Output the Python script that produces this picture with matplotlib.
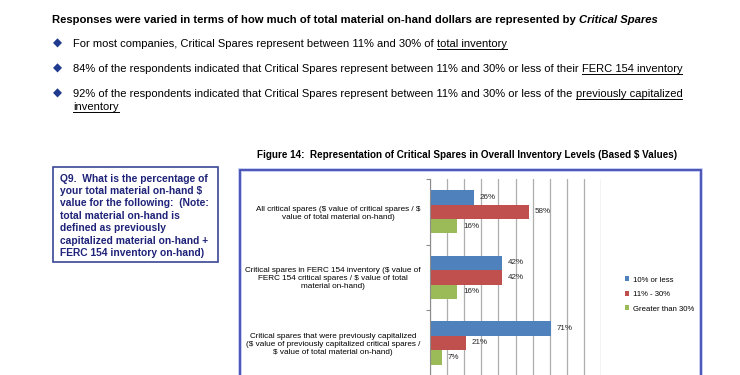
import matplotlib.pyplot as plt
from matplotlib.patches import Rectangle
import numpy as np

categories = [
    "All critical spares (\\$ value of critical spares / \\$\nvalue of total material on-hand)",
    "Critical spares in FERC 154 inventory (\\$ value of\nFERC 154 critical spares / \\$ value of total\nmaterial on-hand)",
    "Critical spares that were previously capitalized\n(\\$ value of previously capitalized critical spares /\n\\$ value of total material on-hand)",
]
series_names = ["10% or less", "11% - 30%", "Greater than 30%"]
low = [26, 42, 71]
mid = [58, 42, 21]
high = [16, 16, 7]
colors = ["#4F81BD", "#C0504D", "#9BBB59"]

header = "Responses were varied in terms of how much of total material on-hand dollars are represented by "
header_it = "Critical Spares"
bullets = [
    ("For most companies, Critical Spares represent between 11% and 30% of ", "total inventory"),
    ("84% of the respondents indicated that Critical Spares represent between 11% and 30% or less of their ", "FERC 154 inventory"),
    ("92% of the respondents indicated that Critical Spares represent between 11% and 30% or less of the ", "previously capitalized"),
]
q9_lines = ["Q9.  What is the percentage of", "your total material on-hand \\$",
            "value for the following:  (Note:", "total material on-hand is",
            "defined as previously", "capitalized material on-hand +",
            "FERC 154 inventory on-hand)"]
fig_title = "Figure 14:  Representation of Critical Spares in Overall Inventory Levels (Based \\$ Values)"

W, H = 740, 375
fig = plt.figure(figsize=(7.4, 3.75), dpi=100)
fig.patch.set_facecolor("white")
arial = ["Liberation Sans", "DejaVu Sans"]


def fx(x):
    return x / W


def fy(y):
    return 1 - y / H


renderer = fig.canvas.get_renderer()


def fit_size(s, width, **kw):
    t = fig.text(0, 0, s, fontsize=10, **kw)
    w = t.get_window_extent(renderer).width
    t.remove()
    return 10 * width / w


def text_run(x, y, s, **kw):
    t = fig.text(fx(x), fy(y), s, va="baseline", ha="left", **kw)
    bb = t.get_window_extent(renderer)
    return t, bb


def underline(bb, y):
    fig.add_artist(plt.Line2D([fx(bb.x0), fx(bb.x1)], [fy(y + 2), fy(y + 2)],
                              color="black", lw=0.7, transform=fig.transFigure))


# header line
hs = fit_size(header + header_it, 609, fontweight="bold", family=arial)
t, bb = text_run(52, 23, header, fontsize=hs, fontweight="bold", family=arial)
text_run(bb.x1, 23, header_it, fontsize=hs, fontweight="bold", style="italic", family=arial)

# bullet lines
bs = fit_size(bullets[1][0] + bullets[1][1], 610, family=arial)
ys = [47, 72, 97]
for (pre, und), y in zip(bullets, ys):
    fig.text(fx(57), fy(y - 4), "\u25c6", color="#1F3A8F", fontsize=8.5, ha="center", va="center",
             family=["DejaVu Sans"])
    t, bb = text_run(73, y, pre, fontsize=bs, family=arial)
    t2, bb2 = text_run(bb.x1, y, und, fontsize=bs, family=arial)
    underline(bb2, y)
t3, bb3 = text_run(73, 110, "inventory", fontsize=bs, family=arial)
underline(bb3, 110)

# Q9 box
fig.add_artist(Rectangle((fx(53), fy(262)), fx(218) - fx(53), fy(167) - fy(262),
                         fill=False, ec="#3A4796", lw=1.2, transform=fig.transFigure))
qs = fit_size(q9_lines[0], 147, fontweight="bold", family=arial)
for i, line in enumerate(q9_lines):
    fig.text(fx(60), fy(181.5 + i * 12.4), line, fontsize=qs, fontweight="bold", color="#1E2278",
             va="baseline", ha="left", family=arial)

# chart title
ts = fit_size(fig_title, 419, fontweight="bold", family=arial)
fig.text(fx(467.5), fy(155), fig_title, fontsize=ts, fontweight="bold", ha="center", va="center",
         family=arial)

# chart frame
fig.add_artist(Rectangle((fx(240), fy(380)), fx(701) - fx(240), fy(170) - fy(380),
                         fill=False, ec="#BAC2F2", lw=2.6, transform=fig.transFigure))
fig.add_artist(Rectangle((fx(240), fy(380)), fx(701) - fx(240), fy(170) - fy(380),
                         fill=False, ec="#3845A8", lw=1.2, transform=fig.transFigure))

# bar chart
ax = fig.add_axes([fx(430), fy(375.7), fx(601) - fx(430), (375.7 - 179) / H])
ax.set_facecolor("none")
pos = np.arange(len(categories))
bh = 0.22
offsets = [-bh, 0, bh]
handles = []
for vals, off, c, name in zip([low, mid, high], offsets, colors, series_names):
    b = ax.barh(pos + off, vals, height=bh, color=c, label=name, zorder=3)
    handles.append(b)
    for yv, v in zip(pos + off, vals):
        ax.annotate(f"{v}%", (v, yv), xytext=(4, 0), textcoords="offset points",
                    va="center", ha="left", fontsize=5.8, color="#262626", family=arial)

ax.set_xlim(0, 100)
ax.set_ylim(2.5, -0.5)
ax.set_xticks(np.arange(0, 101, 10))
ax.grid(axis="x", color="#AEAEAE", lw=0.9, zorder=0)
ax.tick_params(axis="x", length=0, labelbottom=False)
ax.set_yticks(pos)
ax.set_yticklabels(categories, fontsize=5.9, family=arial)
for lab in ax.get_yticklabels():
    lab.set_multialignment("center")
ax.tick_params(axis="y", which="major", length=0, pad=7)
ax.set_yticks([-0.5, 0.5, 1.5, 2.5], minor=True)
ax.tick_params(axis="y", which="minor", length=3, color="#8C8C8C", width=0.8)
for s in ["top", "right", "bottom"]:
    ax.spines[s].set_visible(False)
ax.spines["left"].set_color("#8C8C8C")
ax.spines["left"].set_zorder(4)

fig.legend(handles=handles, labels=series_names, loc="center left",
           bbox_to_anchor=(fx(618), fy(294.5)), frameon=False,
           handlelength=0.55, handleheight=0.55, handletextpad=0.45, labelspacing=0.95,
           prop={"family": arial, "size": 5.6})

fig.savefig("out.png", dpi=100)
